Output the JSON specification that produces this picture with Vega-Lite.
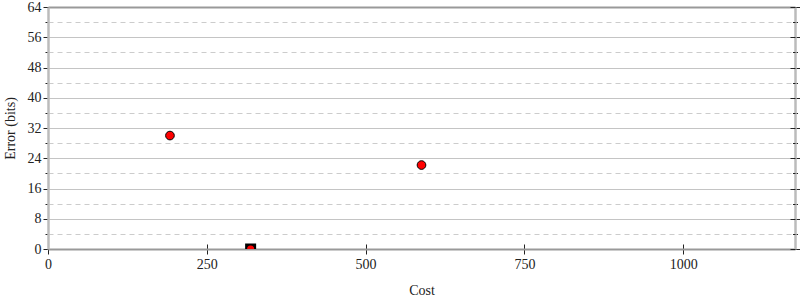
{
  "$schema": "https://vega.github.io/schema/vega-lite/v6.json",
  "autosize": {"type": "none"},
  "padding": {"left": 48, "top": 7, "right": 5, "bottom": 51},
  "width": 747,
  "height": 242,
  "background": "white",
  "config": {
    "view": {"stroke": null},
    "font": "Liberation Serif",
    "axis": {"labelFont": "Liberation Serif", "titleFont": "Liberation Serif", "labelFontSize": 14, "titleFontSize": 14, "titleFontWeight": "normal", "labelColor": "#222", "titleColor": "#222", "tickColor": "#222", "tickWidth": 1, "labelFlush": false}
  },
  "data": {
    "values": [
      {"cost": 192, "error": 30, "kind": "pt"},
      {"cost": 588, "error": 22.2, "kind": "pt"},
      {"cost": 319, "error": 0, "kind": "best"}
    ]
  },
  "resolve": {"axis": {"x": "independent", "y": "independent"}},
  "layer": [
    {
      "transform": [{"filter": "datum.kind == 'best'"}],
      "mark": {"type": "point", "shape": "square", "filled": true, "color": "#000", "size": 121, "opacity": 1, "clip": true},
      "encoding": {
        "x": {"field": "cost", "type": "quantitative", "scale": {"domain": [0, 1176], "nice": false},
          "axis": {"orient": "bottom", "values": [0, 250, 500, 750, 1000], "tickSize": -5, "labels": false, "domain": false, "grid": false, "title": null}},
        "y": {"field": "error", "type": "quantitative", "scale": {"domain": [0, 64], "nice": false},
          "axis": {"orient": "left", "values": [0, 4, 8, 12, 16, 20, 24, 28, 32, 36, 40, 44, 48, 52, 56, 60, 64],
            "labelExpr": "datum.value % 8 == 0 ? datum.label : ''",
            "tickSize": {"condition": {"test": "datum.value % 8 == 0", "value": 5}, "value": 3},
            "grid": true,
            "gridColor": {"condition": {"test": "datum.value % 8 == 0", "value": "#c4c4c4"}, "value": "#cccccc"},
            "gridDash": {"condition": {"test": "datum.value % 8 == 0", "value": []}, "value": [5, 4]},
            "gridWidth": 1,
            "domainColor": "#bbbbbb", "domainWidth": 2.5,
            "labelPadding": 2,
            "title": "Error (bits)", "titleX": -38, "titleY": 121, "titleAngle": -90, "titleBaseline": "middle", "titleAlign": "center"}}
      }
    },
    {
      "transform": [{"filter": "datum.kind == 'best'"}],
      "mark": {"type": "point", "shape": "circle", "filled": true, "color": "#ff0000", "size": 50, "opacity": 1, "clip": true},
      "encoding": {
        "x": {"field": "cost", "type": "quantitative", "scale": {"domain": [0, 1176], "nice": false},
          "axis": {"orient": "top", "ticks": false, "labels": false, "grid": false, "title": null, "domainColor": "#999999", "domainWidth": 2}},
        "y": {"field": "error", "type": "quantitative", "scale": {"domain": [0, 64], "nice": false},
          "axis": {"orient": "right", "values": [0, 4, 8, 12, 16, 20, 24, 28, 32, 36, 40, 44, 48, 52, 56, 60, 64],
            "labels": false, "grid": false, "title": null,
            "tickSize": {"condition": {"test": "datum.value % 8 == 0", "value": 5}, "value": 2.5},
            "domainColor": "#bbbbbb", "domainWidth": 2.5}}
      }
    },
    {
      "transform": [{"filter": "datum.kind == 'pt'"}],
      "mark": {"type": "point", "shape": "circle", "filled": true, "fill": "#ff0000", "stroke": "#000", "strokeWidth": 1, "size": 75, "opacity": 1},
      "encoding": {
        "x": {"field": "cost", "type": "quantitative", "scale": {"domain": [0, 1176], "nice": false},
          "axis": {"orient": "bottom", "values": [0, 250, 500, 750, 1000], "format": "d", "tickSize": 5, "labelPadding": 3, "grid": false, "domainColor": "#999999", "domainWidth": 2,
            "title": "Cost", "titleX": 373.5, "titleY": 41, "titleBaseline": "middle", "titleAlign": "center"}},
        "y": {"field": "error", "type": "quantitative", "scale": {"domain": [0, 64], "nice": false},
          "axis": {"orient": "right", "values": [0, 4, 8, 12, 16, 20, 24, 28, 32, 36, 40, 44, 48, 52, 56, 60, 64],
            "labels": false, "grid": false, "title": null, "domain": false,
            "tickSize": {"condition": {"test": "datum.value % 8 == 0", "value": -5}, "value": -2.5}}}
      }
    }
  ]
}
